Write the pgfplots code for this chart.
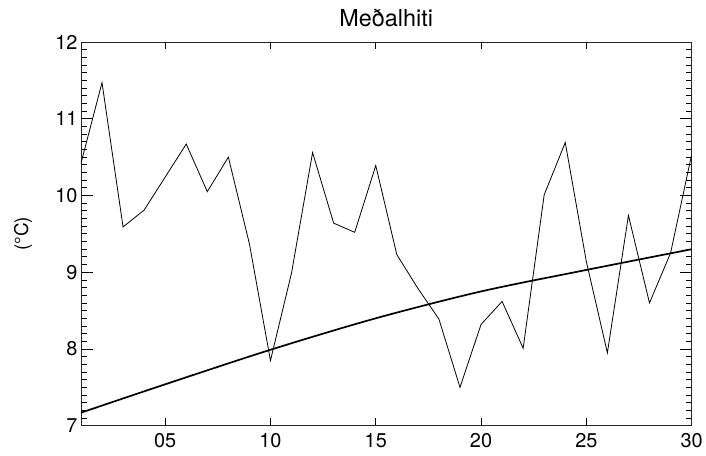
\documentclass[border=0pt]{standalone}
\usepackage{fontspec}
\setmainfont{TeX Gyre Heros}
\usepackage{pgfplots}
\pgfplotsset{compat=1.18}

\pgfplotstableread{
x y
1 10.42
2 11.47
3 9.59
4 9.81
5 10.24
6 10.67
7 10.05
8 10.50
9 9.37
10 7.85
11 8.99
12 10.56
13 9.64
14 9.52
15 10.39
16 9.23
17 8.79
18 8.39
19 7.50
20 8.32
21 8.62
22 8.01
23 10.01
24 10.69
25 9.14
26 7.95
27 9.74
28 8.60
29 9.25
30 10.53
}\dailytemp

\pgfplotstableread{
x y
1 7.17
5 7.54
10 7.99
15 8.40
20 8.75
25 9.03
30 9.30
}\trend

\begin{document}
\begin{tikzpicture}
\begin{axis}[
    name=main,
    at={(0,0)}, anchor=south west,
    scale only axis,
    width=611bp, height=384bp,
    xmin=1, xmax=30, ymin=7, ymax=12,
    xtick={5,10,15,20,25,30},
    xticklabels={05,10,15,20,25,30},
    ytick={7,8,9,10,11,12},
    minor y tick num=9,
    tick align=inside,
    major tick length=11.7bp,
    minor tick length=5.7bp,
    xtick style={/pgfplots/major tick length=7.3bp},
    every tick/.style={black, line width=0.8bp},
    axis line style={line width=0.9bp, black!85},
    /pgf/number format/assume math mode=true,
    ticklabel style={font=\fontsize{20}{24}\selectfont},
    xticklabel style={yshift=-4bp},
    title={Meðalhiti},
    title style={font=\fontsize{23.5}{28}\selectfont, at={(axis description cs:0.5,1)}, anchor=base, yshift=10bp},
    ylabel={(°C)},
    ylabel style={font=\fontsize{19}{23}\selectfont, at={(axis description cs:-0.095,0.5)}, anchor=center, rotate=0},
    clip=true,
]
\addplot[black, line width=0.8bp] table[x=x, y=y] {\dailytemp};
\addplot[black, line width=1.7bp, smooth] table[x=x, y=y] {\trend};
\end{axis}
\path ([xshift=-81bp, yshift=-30bp]main.south west) rectangle ([xshift=14bp, yshift=42bp]main.north east);
\end{tikzpicture}
\end{document}
